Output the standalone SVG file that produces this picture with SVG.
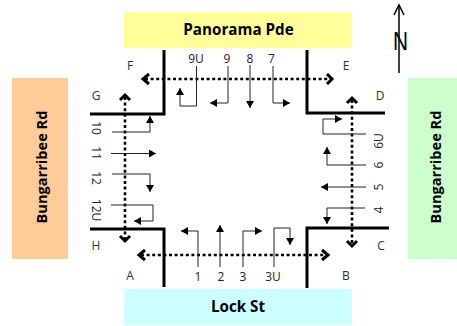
<svg xmlns="http://www.w3.org/2000/svg" width="457" height="326" viewBox="0 0 457 326">
<style>
text{font-family:"Open Sans","Liberation Sans",sans-serif;fill:#222;text-anchor:middle}
.r{font-weight:700;font-size:15.2px;fill:#000}
.v{font-size:14.600px}
.l{font-size:12px;fill:#333}
.n{font-size:12px;fill:#222}
.k{fill:none;stroke:#000;stroke-width:3}
.d{fill:none;stroke:#000;stroke-width:2.600;stroke-dasharray:3 2.6}
.h{fill:none;stroke:#000;stroke-width:3}
.m{fill:none;stroke:#222;stroke-width:1;marker-end:url(#a)}
</style>
<defs>
<marker id="a" viewBox="0 0 7 8" refX="7" refY="4" markerWidth="7" markerHeight="8" orient="auto" markerUnits="userSpaceOnUse"><path d="M0 0L7 4L0 8Z" fill="#000"/></marker>
</defs>
<rect width="457" height="326" fill="#fff"/>
<g id="road-north"><rect x="124" y="12" width="228" height="36" fill="#ffff99"/><text class="r" x="238.500" y="35">Panorama Pde</text></g>
<g id="road-south"><rect x="124" y="289" width="228" height="36" fill="#ccffff"/><text class="r" x="238" y="312">Lock St</text></g>
<g id="road-west"><rect x="12" y="78" width="56" height="181" fill="#ffcc99"/><text class="r v" transform="translate(47 167) rotate(-90)">Bungarribee Rd</text></g>
<g id="road-east"><rect x="408" y="78" width="49" height="181" fill="#ccffcc"/><text class="r v" transform="translate(441 167) rotate(-90)">Bungarribee Rd</text></g>
<g id="north"><path d="M399 73V6" stroke="#000" stroke-width="1.500"/><path d="M394 15L399 5L404 15" fill="none" stroke="#000" stroke-width="1.500"/><text x="400.500" y="50" font-size="26" textLength="15" lengthAdjust="spacingAndGlyphs" style="fill:#000;font-family:'Liberation Sans',sans-serif">N</text></g>
<g id="corners">
<path class="k" d="M164 50V114H90"/>
<path class="k" d="M307 50V113H385"/>
<path class="k" d="M90 229H164V287"/>
<path class="k" d="M389 228H307V288"/>
</g>
<g id="connectors">
<path class="d" d="M145 79H331"/>
<path class="d" d="M141 255H327"/>
<path class="d" d="M125 97V240"/>
<path class="d" d="M352 100V245"/>
<path class="h" d="M149 74L143 79L149 84M327 74L332 79L327 84"/>
<path class="h" d="M145 250L139 255L145 260M322 250L328 255L322 260"/>
<path class="h" d="M120 100L125 95L130 100M120 236L125 241L130 236"/>
<path class="h" d="M347 103L352 98L357 103M347 241L352 246L357 241"/>
<path class="m" d="M196.500 66V106H180V88"/>
<path class="m" d="M228 66V103H210"/>
<path class="m" d="M250 65V108"/>
<path class="m" d="M273 66V103H290"/>
<path class="m" d="M112 132H150V116"/>
<path class="m" d="M111 153.500H156"/>
<path class="m" d="M112 174H150V192"/>
<path class="m" d="M111 205H153V221H134"/>
<path class="m" d="M198 267V231H181"/>
<path class="m" d="M220 267V225"/>
<path class="m" d="M243 267V231H262"/>
<path class="m" d="M274 267V228H290V245"/>
<path class="m" d="M365 208H327V224"/>
<path class="m" d="M366 187H321"/>
<path class="m" d="M366 165H327V147"/>
<path class="m" d="M366 134H323V119H342"/>
</g>
<g id="corner-labels">
<text class="l" x="130" y="70">F</text><text class="l" x="346" y="70">E</text>
<text class="l" x="96" y="100">G</text><text class="l" x="380" y="100">D</text>
<text class="l" x="96" y="250">H</text><text class="l" x="381" y="250">C</text>
<text class="l" x="130" y="280">A</text><text class="l" x="346" y="280">B</text>
</g>
<g id="movement-labels">
<text class="n" x="196" y="63">9U</text><text class="n" x="227" y="63">9</text><text class="n" x="250" y="63">8</text><text class="n" x="271.500" y="63">7</text>
<text class="n" x="198" y="281">1</text><text class="n" x="221" y="281">2</text><text class="n" x="243" y="281">3</text><text class="n" x="273" y="281">3U</text>
<text class="n" transform="translate(92 128) rotate(90)">10</text>
<text class="n" transform="translate(92 153) rotate(90)">11</text>
<text class="n" transform="translate(92 178) rotate(90)">12</text>
<text class="n" transform="translate(92 210) rotate(90)">12U</text>
<text class="n" transform="translate(383 141) rotate(-90)">6U</text>
<text class="n" transform="translate(383 165) rotate(-90)">6</text>
<text class="n" transform="translate(383 187) rotate(-90)">5</text>
<text class="n" transform="translate(383 210) rotate(-90)">4</text>
</g>
</svg>
